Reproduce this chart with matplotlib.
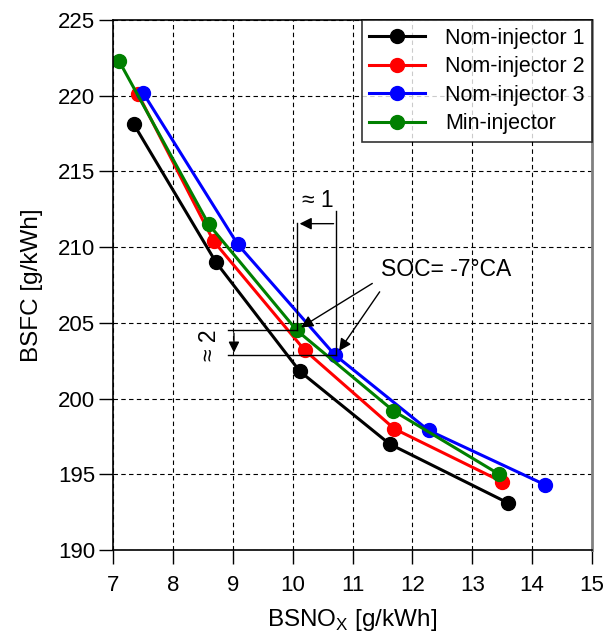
import matplotlib
matplotlib.use("Agg")
import matplotlib.pyplot as plt

plt.rcParams['font.family'] = ['Liberation Sans', 'DejaVu Sans']
plt.rcParams['mathtext.fontset'] = 'custom'
plt.rcParams['mathtext.rm'] = 'Liberation Sans'

# BSNOx [g/kWh] and BSFC [g/kWh]
nom1_x = [7.35, 8.72, 10.12, 11.62, 13.6]
nom1_y = [218.1, 209.0, 201.8, 197.0, 193.1]
nom2_x = [7.42, 8.68, 10.2, 11.7, 13.5]
nom2_y = [220.1, 210.4, 203.2, 198.0, 194.5]
nom3_x = [7.5, 9.08, 10.7, 12.27, 14.22]
nom3_y = [220.2, 210.2, 202.9, 197.9, 194.3]
min_x = [7.1, 8.6, 10.07, 11.68, 13.45]
min_y = [222.3, 211.5, 204.5, 199.2, 195.0]

series = [
    ("Nom-injector 1", nom1_x, nom1_y, "black"),
    ("Nom-injector 2", nom2_x, nom2_y, "red"),
    ("Nom-injector 3", nom3_x, nom3_y, "blue"),
    ("Min-injector", min_x, min_y, "green"),
]

fig = plt.figure(figsize=(6.09, 6.35), dpi=100)
ax = fig.add_axes([113 / 609, 85 / 635, 479 / 609, 530 / 635])

for label, xs, ys, col in series:
    ax.plot(xs, ys, "-o", color=col, lw=2.2, ms=10, label=label)

ax.set_xlim(7, 15)
ax.set_ylim(190, 225)
ax.set_xticks(range(7, 16))
ax.set_yticks(range(190, 226, 5))
ax.grid(True, ls=(0, (4, 3)), color="black", lw=0.8)
ax.tick_params(labelsize=16, direction="out", length=10, width=1)
ax.tick_params(axis="x", pad=8)
ax.tick_params(axis="y", pad=3)
for s in ax.spines.values():
    s.set_linewidth(1.2)
ax.spines["right"].set_color("gray")
ax.spines["right"].set_linewidth(2)

ax.set_xlabel("BSNO$_\\mathregular{X}$ [g/kWh]", fontsize=17.5)
ax.set_ylabel("BSFC [g/kWh]", fontsize=17.5)
ax.xaxis.set_label_coords(0.5, -0.108)
ax.yaxis.set_label_coords(-0.146, 0.5)

leg = ax.legend(loc="upper right", fontsize=15.5, frameon=True, fancybox=False,
                edgecolor="black", borderaxespad=0, handlelength=2.6,
                handletextpad=0.9, labelspacing=0.35, borderpad=0.35)
leg.get_frame().set_linewidth(1.2)

# "≈ 1" shift annotation
ax.plot([10.07, 10.07], [204.5, 211.6], color="black", lw=1)
ax.plot([10.73, 10.73], [202.9, 212.4], color="black", lw=1)
ax.annotate("", xy=(10.07, 211.55), xytext=(10.73, 211.55),
            arrowprops=dict(arrowstyle="-|>", color="black", lw=1, mutation_scale=18))
ax.text(10.42, 212.3, "≈ 1", fontsize=16.5, ha="center", va="bottom")

# "≈ 2" shift annotation
ax.plot([8.92, 10.07], [204.5, 204.5], color="black", lw=1)
ax.plot([8.92, 10.73], [202.85, 202.85], color="black", lw=1)
ax.annotate("", xy=(9.02, 202.85), xytext=(9.02, 204.5),
            arrowprops=dict(arrowstyle="-|>", color="black", lw=1, mutation_scale=16))
ax.text(8.62, 203.5, "≈ 2", fontsize=16.5, ha="center", va="center", rotation=90)

# SOC label with arrows
ax.text(11.48, 208.5, "SOC= -7°CA", fontsize=16.5, ha="left", va="center")
ax.annotate("", xy=(10.1, 204.6), xytext=(11.37, 207.7),
            arrowprops=dict(arrowstyle="-|>", color="black", lw=1, mutation_scale=18))
ax.annotate("", xy=(10.75, 203.0), xytext=(11.48, 207.2),
            arrowprops=dict(arrowstyle="-|>", color="black", lw=1, mutation_scale=18))

fig.savefig("out.png", dpi=100)
